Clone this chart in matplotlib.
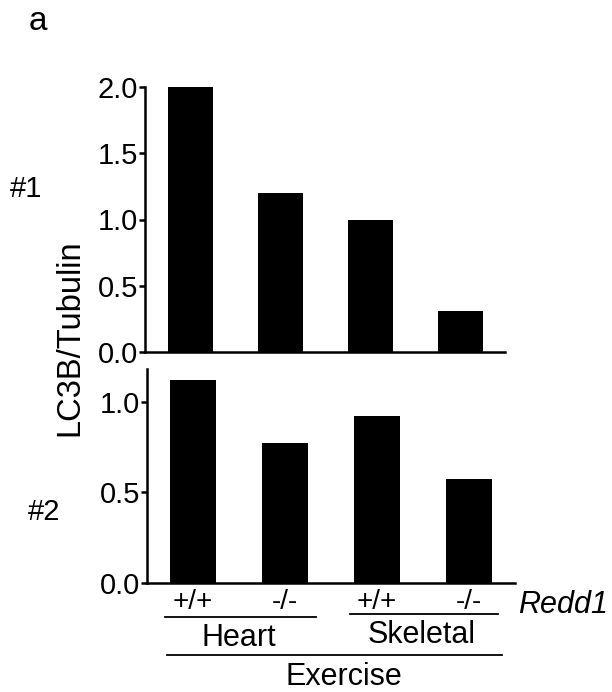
import matplotlib
matplotlib.use("Agg")
import matplotlib.pyplot as plt
import matplotlib.transforms as mtransforms

plt.rcParams['font.family'] = ['Liberation Sans', 'DejaVu Sans']

# data
genotypes = ["+/+", "-/-", "+/+", "-/-"]
tissues = ["Heart", "Skeletal"]
exp1 = [2.0, 1.2, 1.0, 0.31]
exp2 = [1.12, 0.77, 0.92, 0.575]

W, H = 612, 692
fig = plt.figure(figsize=(W / 100, H / 100), dpi=100)

def px_axes(x0, y0, x1, y1):
    # pixel box (top-left origin) -> figure fraction axes
    return fig.add_axes([x0 / W, 1 - y1 / H, (x1 - x0) / W, (y1 - y0) / H])

ax1 = px_axes(145, 87, 505, 352)
ax2 = px_axes(147, 369, 515, 583)

xs = range(len(genotypes))
for ax, vals, ymax, ticks in [(ax1, exp1, 2.0, [0, 0.5, 1.0, 1.5, 2.0]),
                              (ax2, exp2, 1.18, [0, 0.5, 1.0])]:
    ax.bar(xs, vals, width=0.5, color='black')
    ax.set_xlim(-0.5, 3.5)
    ax.set_ylim(0, ymax)
    ax.set_yticks(ticks)
    ax.set_yticklabels([f"{t:.1f}" for t in ticks])
    ax.set_xticks([])
    for s in ['top', 'right']:
        ax.spines[s].set_visible(False)
    for s in ['left', 'bottom']:
        ax.spines[s].set_linewidth(1.8)
    ax.tick_params(axis='y', labelsize=21, width=1.8, length=4, pad=1)

# y label shared
fig.text(70 / W, 1 - 338 / H, "LC3B/Tubulin", rotation=90, fontsize=23.5,
         ha='center', va='center')
fig.text(38 / W, 1 - 22 / H, "a", fontsize=24, ha='center', va='center')
fig.text(26 / W, 1 - 189 / H, "#1", fontsize=21, ha='center', va='center')
fig.text(44 / W, 1 - 512 / H, "#2", fontsize=21, ha='center', va='center')

# group labels below bottom panel
tr = mtransforms.blended_transform_factory(ax2.transData, fig.transFigure)
def fy(py):
    return 1 - py / H

for x, g in zip(xs, genotypes):
    ax2.text(x, fy(602), g, transform=tr, fontsize=20, ha='center', va='center')
ax2.text(4.02, fy(605), "Redd1", transform=tr, fontsize=22, style='italic',
         ha='center', va='center')

ax2.plot([-0.3, 1.34], [fy(617), fy(617)], transform=tr, color='black', lw=1.3, clip_on=False)
ax2.plot([1.71, 3.31], [fy(614), fy(614)], transform=tr, color='black', lw=1.3, clip_on=False)
ax2.text(0.5, fy(638), tissues[0], transform=tr, fontsize=22, ha='center', va='center')
ax2.text(2.48, fy(635), tissues[1], transform=tr, fontsize=22, ha='center', va='center')
ax2.plot([-0.28, 3.36], [fy(655), fy(655)], transform=tr, color='black', lw=1.3, clip_on=False)
ax2.text(1.64, fy(677), "Exercise", transform=tr, fontsize=22, ha='center', va='center')

fig.savefig("out.png", dpi=100)
